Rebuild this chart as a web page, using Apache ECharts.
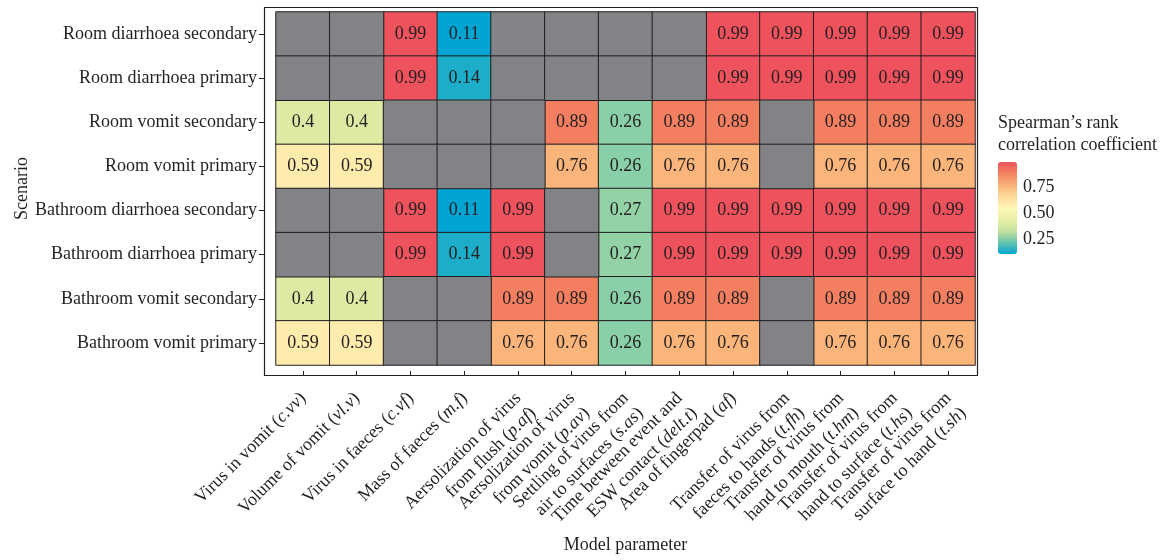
<!DOCTYPE html>
<html>
<head>
<meta charset="utf-8">
<script src="https://cdn.jsdelivr.net/npm/echarts@6/dist/echarts.min.js"></script>
<style>
  html, body { margin: 0; padding: 0; background: #ffffff; }
  #chart { width: 1173px; height: 560px; }
</style>
</head>
<body>
<div id="chart"></div>
<script>
// Scenarios, listed top to bottom
const scenarios = [
  'Room diarrhoea secondary',
  'Room diarrhoea primary',
  'Room vomit secondary',
  'Room vomit primary',
  'Bathroom diarrhoea secondary',
  'Bathroom diarrhoea primary',
  'Bathroom vomit secondary',
  'Bathroom vomit primary'
];

// Model parameters: description lines and the italic symbol
const paramText = [
  ['Virus in vomit'],
  ['Volume of vomit'],
  ['Virus in faeces'],
  ['Mass of faeces'],
  ['Aersolization of virus', 'from flush'],
  ['Aersolization of virus', 'from vomit'],
  ['Settling of virus from', 'air to surfaces'],
  ['Time between event and', 'ESW contact'],
  ['Area of fingerpad'],
  ['Transfer of virus from', 'faeces to hands'],
  ['Transfer of virus from', 'hand to mouth'],
  ['Transfer of virus from', 'hand to surface'],
  ['Transfer of virus from', 'surface to hand']
];
const paramSymbol = ['c.vv', 'vl.v', 'c.vf', 'm.f', 'p.af', 'p.av', 's.as', 'delt.t', 'af', 't.fh', 't.hm', 't.hs', 't.sh'];

// Spearman's rank correlation per scenario (null = parameter not in that scenario)
const roomDiarrhoeaSecondary     = [null, null, 0.99, 0.11, null, null, null, null, 0.99, 0.99, 0.99, 0.99, 0.99];
const roomDiarrhoeaPrimary       = [null, null, 0.99, 0.14, null, null, null, null, 0.99, 0.99, 0.99, 0.99, 0.99];
const roomVomitSecondary         = [0.4, 0.4, null, null, null, 0.89, 0.26, 0.89, 0.89, null, 0.89, 0.89, 0.89];
const roomVomitPrimary           = [0.59, 0.59, null, null, null, 0.76, 0.26, 0.76, 0.76, null, 0.76, 0.76, 0.76];
const bathroomDiarrhoeaSecondary = [null, null, 0.99, 0.11, 0.99, null, 0.27, 0.99, 0.99, 0.99, 0.99, 0.99, 0.99];
const bathroomDiarrhoeaPrimary   = [null, null, 0.99, 0.14, 0.99, null, 0.27, 0.99, 0.99, 0.99, 0.99, 0.99, 0.99];
const bathroomVomitSecondary     = [0.4, 0.4, null, null, 0.89, 0.89, 0.26, 0.89, 0.89, null, 0.89, 0.89, 0.89];
const bathroomVomitPrimary       = [0.59, 0.59, null, null, 0.76, 0.76, 0.26, 0.76, 0.76, null, 0.76, 0.76, 0.76];

const rows = [
  roomDiarrhoeaSecondary, roomDiarrhoeaPrimary, roomVomitSecondary, roomVomitPrimary,
  bathroomDiarrhoeaSecondary, bathroomDiarrhoeaPrimary, bathroomVomitSecondary, bathroomVomitPrimary
];

// Colour bar
const legendMin = 0.11;
const legendMax = 0.99;
const legendTicks = [0.25, 0.5, 0.75];
const legendColors = ['#00a5d3', '#66c4ab', '#c6e2a0', '#eaeea5', '#fff7b8', '#fdd99a', '#fbb178', '#f38360', '#ee525d'];

const FONT = 'Liberation Serif';
const FS = 18;
const INK = '#231f20';
const MISSING = '#818386';

const paramCategories = paramText.map((_, i) => 'p' + i);

const valueCells = [];
const missingCells = [];
rows.forEach((row, r) => {
  row.forEach((v, c) => {
    if (v === null) missingCells.push([c, r, 0]);
    else valueCells.push([c, r, v]);
  });
});

function paramLabel(value, index) {
  const lines = paramText[index].slice();
  lines[lines.length - 1] += ' ({i|' + paramSymbol[index] + '})';
  return lines.join('\n');
}

const chart = echarts.init(document.getElementById('chart'), null, { renderer: 'canvas' });

chart.setOption({
  animation: false,
  backgroundColor: '#ffffff',
  textStyle: { fontFamily: FONT, color: INK },
  grid: [
    { left: 276, top: 12, width: 699, height: 353, containLabel: false, outerBoundsMode: 'none' },
    { left: 998, top: 162, width: 19, height: 92, containLabel: false, outerBoundsMode: 'none' }
  ],
  xAxis: [
    {
      type: 'category',
      gridIndex: 0,
      data: paramCategories,
      position: 'bottom',
      offset: 11,
      name: 'Model parameter',
      nameLocation: 'middle',
      nameGap: 160,
      nameMoveOverlap: false,
      nameTextStyle: { fontFamily: FONT, fontSize: FS, color: INK },
      axisLine: { show: false },
      axisTick: { show: true, inside: true, length: 5, alignWithLabel: true, lineStyle: { color: INK, width: 1 } },
      axisLabel: {
        interval: 0,
        rotate: 45,
        margin: 5,
        align: 'right',
        verticalAlign: 'top',
        padding: [0, 10, 0, 0],
        fontFamily: FONT,
        fontSize: FS,
        lineHeight: 21,
        color: INK,
        formatter: paramLabel,
        rich: {
          i: { fontFamily: FONT, fontStyle: 'italic', fontSize: FS, lineHeight: 21, color: INK }
        }
      },
      splitLine: { show: false }
    },
    { type: 'value', gridIndex: 1, show: false, min: 0, max: 1 }
  ],
  yAxis: [
    {
      type: 'category',
      gridIndex: 0,
      data: scenarios,
      inverse: true,
      offset: 12,
      name: 'Scenario',
      nameLocation: 'middle',
      nameGap: 233,
      nameMoveOverlap: false,
      nameTextStyle: { fontFamily: FONT, fontSize: FS, color: INK },
      axisLine: { show: false },
      axisTick: { show: true, length: 5, alignWithLabel: true, lineStyle: { color: INK, width: 1 } },
      axisLabel: { margin: 7, fontFamily: FONT, fontSize: FS, color: INK },
      splitLine: { show: false }
    },
    {
      type: 'value',
      gridIndex: 1,
      min: legendMin,
      max: legendMax,
      position: 'right',
      axisLine: { show: false },
      axisTick: { show: true, inside: true, length: 4, customValues: legendTicks, lineStyle: { color: 'rgba(255,255,255,0.8)', width: 1 } },
      axisLabel: {
        margin: 6,
        customValues: legendTicks,
        fontFamily: FONT,
        fontSize: FS,
        color: INK,
        formatter: v => v.toFixed(2)
      },
      splitLine: { show: false }
    },
    {
      type: 'value',
      gridIndex: 1,
      min: legendMin,
      max: legendMax,
      position: 'left',
      axisLine: { show: false },
      axisTick: { show: true, inside: true, length: 4, customValues: legendTicks, lineStyle: { color: 'rgba(255,255,255,0.8)', width: 1 } },
      axisLabel: { show: false },
      splitLine: { show: false }
    }
  ],
  visualMap: {
    type: 'continuous',
    seriesIndex: 0,
    min: legendMin,
    max: legendMax,
    calculable: false,
    showLabel: false,
    text: null,
    itemWidth: 19,
    itemHeight: 92,
    left: 998,
    top: 162,
    padding: 0,
    orient: 'vertical',
    inRange: { color: legendColors },
    z: 1
  },
  graphic: [
    {
      type: 'rect',
      shape: { x: 264.5, y: 7.5, width: 713, height: 368 },
      style: { fill: null, stroke: INK, lineWidth: 1.2 },
      z: 10,
      silent: true
    },
    {
      type: 'text',
      left: 998,
      top: 114,
      style: { text: 'Spearman\u2019s rank', fontFamily: FONT, fontSize: FS, fill: INK }
    },
    {
      type: 'text',
      left: 998,
      top: 136,
      style: { text: 'correlation coefficient', fontFamily: FONT, fontSize: FS, fill: INK }
    }
  ],
  series: [
    {
      type: 'heatmap',
      xAxisIndex: 0,
      yAxisIndex: 0,
      data: valueCells,
      itemStyle: { borderColor: INK, borderWidth: 1 },
      label: {
        show: true,
        fontFamily: FONT,
        fontSize: FS,
        color: INK,
        formatter: p => String(p.value[2])
      },
      emphasis: { disabled: true }
    },
    {
      type: 'heatmap',
      xAxisIndex: 0,
      yAxisIndex: 0,
      data: missingCells,
      itemStyle: { color: MISSING, borderColor: INK, borderWidth: 1 },
      label: { show: false },
      emphasis: { disabled: true }
    }
  ]
});
</script>
</body>
</html>
